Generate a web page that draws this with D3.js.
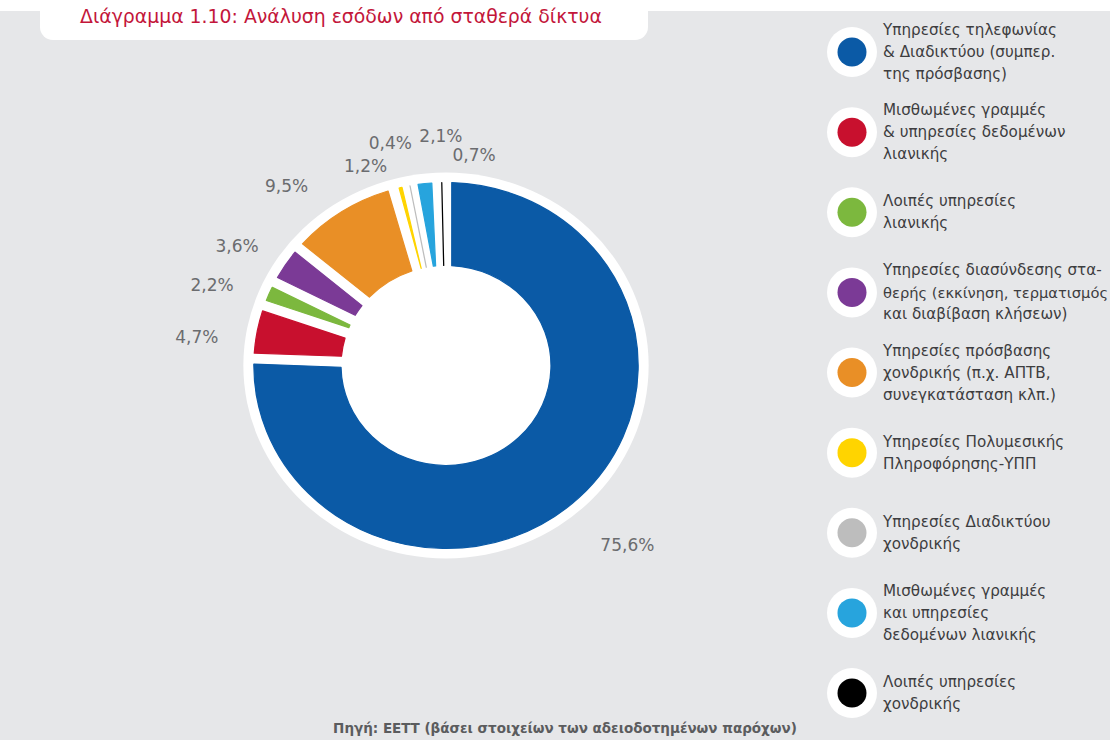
<!DOCTYPE html>
<html lang="el">
<head>
<meta charset="utf-8">
<title>Ανάλυση εσόδων από σταθερά δίκτυα</title>
<script src="https://cdn.jsdelivr.net/npm/d3@7"></script>
<style>
  html, body { margin: 0; padding: 0; background: #e6e7e9; }
  svg { display: block; }
</style>
</head>
<body>
<svg id="chart" width="1110" height="740"></svg>
<script>
// Revenue categories of fixed networks (legend text, one entry per line)
const categories = [
  ["Υπηρεσίες τηλεφωνίας", "& Διαδικτύου (συμπερ.", "της πρόσβασης)"],
  ["Μισθωμένες γραμμές", "& υπηρεσίες δεδομένων", "λιανικής"],
  ["Λοιπές υπηρεσίες", "λιανικής"],
  ["Υπηρεσίες διασύνδεσης στα-", "θερής (εκκίνηση, τερματισμός", "και διαβίβαση κλήσεων)"],
  ["Υπηρεσίες πρόσβασης", "χονδρικής (π.χ. ΑΠΤΒ,", "συνεγκατάσταση κλπ.)"],
  ["Υπηρεσίες Πολυμεσικής", "Πληροφόρησης-ΥΠΠ"],
  ["Υπηρεσίες Διαδικτύου", "χονδρικής"],
  ["Μισθωμένες γραμμές", "και υπηρεσίες", "δεδομένων λιανικής"],
  ["Λοιπές υπηρεσίες", "χονδρικής"]
];

// Share of revenue (%)
const shares = [75.6, 4.7, 2.2, 3.6, 9.5, 1.2, 0.4, 2.1, 0.7];

const sliceColors = ["#0b5aa6", "#c8102e", "#7cb83e", "#7b3a96", "#e98f26",
                     "#ffd400", "#bdbdbd", "#27a4dd", "#000000"];

const titleText = "Διάγραμμα 1.10: Ανάλυση εσόδων από σταθερά δίκτυα";
const sourceText = "Πηγή: ΕΕΤΤ (βάσει στοιχείων των αδειοδοτημένων παρόχων)";

// Value-label placement: angular shift (degrees) and distance from the centre,
// so the crowded small slices do not overlap
const labelPlacement = [
  { shift: 0,    dist: 249 },
  { shift: -3.7, dist: 239 },
  { shift: -3.1, dist: 237 },
  { shift: -2.5, dist: 232 },
  { shift: -7.3, dist: 235 },
  { shift: -7.3, dist: 214 },
  { shift: -2.6, dist: 229 },
  { shift: 5.1,  dist: 230 },
  { shift: 8.5,  dist: 212 }
];

const svg = d3.select("#chart");
const W = 1110, H = 740;
const FONT = "'DejaVu Sans', sans-serif";

// Shrink or grow a text's font size so that it spans the given width
function fitWidth(sel, width) {
  const node = sel.node();
  const size = parseFloat(sel.attr("font-size"));
  const len = node.getComputedTextLength();
  if (len > 0) sel.attr("font-size", (size * width / len).toFixed(2));
  return sel;
}

// Panel background with white top band and title tab
svg.append("rect").attr("x", 0).attr("y", 0).attr("width", W).attr("height", H).attr("fill", "#e6e7e9");
svg.append("rect").attr("x", 0).attr("y", 0).attr("width", W).attr("height", 11).attr("fill", "#ffffff");
svg.append("rect").attr("x", 40).attr("y", -20).attr("width", 608).attr("height", 60)
  .attr("rx", 13).attr("fill", "#ffffff");

const title = svg.append("text")
  .attr("x", 80).attr("y", 23)
  .attr("font-family", FONT)
  .attr("font-size", 17)
  .attr("fill", "#c3163a")
  .text(titleText);
fitWidth(title, 522);

// Donut
const cx = 446, cy = 365.5, stretch = 1.05;
const rOuter = 183, rInner = 100, rDisc = 193;
const halfGap = 5.5;

const pie = d3.pie().sort(null).value(d => d);
const arcs = pie(shares);

const arc = d3.arc()
  .innerRadius(rInner)
  .outerRadius(rOuter)
  .padRadius(200)
  .padAngle(2 * Math.asin(halfGap / 200));

const donut = svg.append("g")
  .attr("transform", `translate(${cx},${cy}) scale(${stretch},1)`);

donut.append("circle").attr("r", rDisc).attr("fill", "#ffffff");

donut.selectAll("path.slice")
  .data(arcs)
  .join("path")
  .attr("class", "slice")
  .attr("d", arc)
  .attr("fill", (d, i) => sliceColors[i])
  .attr("stroke", (d, i) => sliceColors[i])
  .attr("stroke-width", 1.2)
  .attr("stroke-linejoin", "round");

// Value labels
const fmt = d3.formatLocale({ decimal: ",", thousands: ".", grouping: [3], currency: ["", "€"] }).format(".1f");

svg.append("g")
  .selectAll("text")
  .data(arcs)
  .join("text")
  .attr("x", (d, i) => {
    const a = (d.startAngle + d.endAngle) / 2 + labelPlacement[i].shift * Math.PI / 180;
    return cx + stretch * labelPlacement[i].dist * Math.sin(a);
  })
  .attr("y", (d, i) => {
    const a = (d.startAngle + d.endAngle) / 2 + labelPlacement[i].shift * Math.PI / 180;
    return cy - labelPlacement[i].dist * Math.cos(a);
  })
  .attr("text-anchor", "middle")
  .attr("dominant-baseline", "central")
  .attr("font-family", FONT)
  .attr("font-size", 17)
  .attr("fill", "#6b6c6f")
  .text(d => fmt(d.data) + "%");

// Legend
const legendY = d3.scalePoint()
  .domain(d3.range(categories.length))
  .range([52, 693]);

const lineH = 22;
const legendX = 852, textX = 31;
const legend = svg.append("g").attr("transform", `translate(${legendX},0)`);

const item = legend.selectAll("g.item")
  .data(categories)
  .join("g")
  .attr("class", "item")
  .attr("transform", (d, i) => `translate(0,${legendY(i)})`);

item.append("circle").attr("r", 25).attr("fill", "#ffffff");
item.append("circle").attr("r", 14.5).attr("fill", (d, i) => sliceColors[i]);

const legendText = item.append("text")
  .attr("x", textX)
  .attr("font-family", FONT)
  .attr("font-size", 15)
  .attr("fill", "#3d3d3f");

const lines = legendText.selectAll("tspan")
  .data(d => d.map((line, k) => ({ line, k, n: d.length })))
  .join("tspan")
  .attr("x", textX)
  .attr("y", t => (t.k - (t.n - 1) / 2) * lineH)
  .attr("dominant-baseline", "central")
  .text(t => t.line);

// Size the legend type from the first line of the first entry
const probe = svg.append("text")
  .attr("font-family", FONT).attr("font-size", 15)
  .text(categories[0][0]);
fitWidth(probe, 174);
const legendSize = parseFloat(probe.attr("font-size"));
legendText.attr("font-size", legendSize);
probe.remove();

// Tighten any line that would run past the right edge of the panel
const room = W - legendX - textX - 2;
lines.each(function () {
  const len = this.getComputedTextLength();
  if (len > room) d3.select(this).attr("font-size", (legendSize * room / len).toFixed(2));
});

// Source note
const source = svg.append("text")
  .attr("x", 565).attr("y", 733)
  .attr("text-anchor", "middle")
  .attr("font-family", FONT)
  .attr("font-size", 13)
  .attr("font-weight", "bold")
  .attr("fill", "#5b5c5e")
  .text(sourceText);
fitWidth(source, 464);
</script>
</body>
</html>
